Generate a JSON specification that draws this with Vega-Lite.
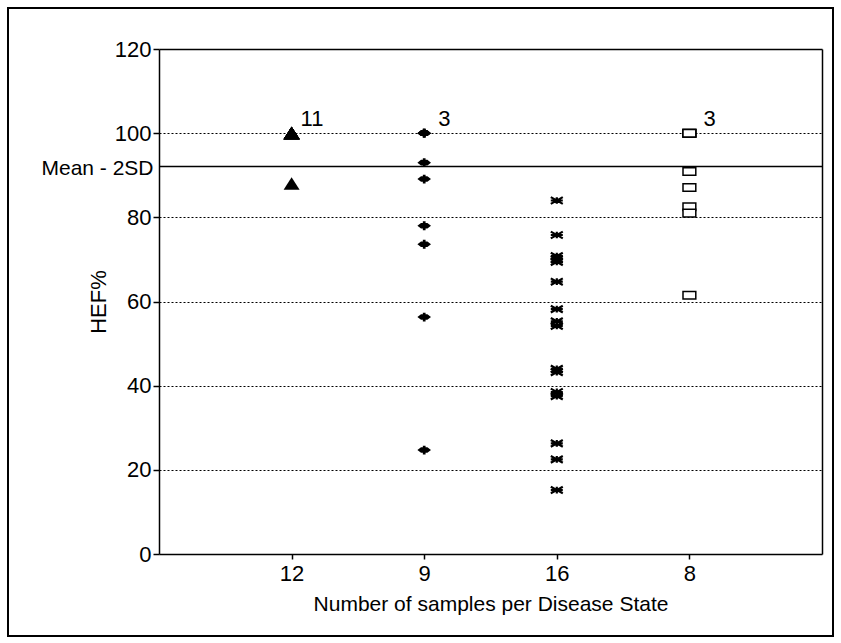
{
  "$schema": "https://vega.github.io/schema/vega-lite/v6.json",
  "width": 825,
  "height": 628,
  "autosize": "none",
  "padding": {"left": 8, "top": 8, "right": 8, "bottom": 7},
  "background": "white",
  "config": {
    "view": {"stroke": "black", "strokeWidth": 2},
    "font": "Liberation Sans",
    "axis": {
      "domainColor": "black",
      "domainWidth": 1.5,
      "tickColor": "black",
      "tickWidth": 1.5,
      "labelColor": "black",
      "labelFont": "Liberation Sans",
      "labelFontSize": 22,
      "titleColor": "black",
      "titleFont": "Liberation Sans",
      "titleFontSize": 21,
      "titleFontWeight": "normal"
    }
  },
  "datasets": {
    "points": [
      {"group": "12", "value": 100}, {"group": "12", "value": 100}, {"group": "12", "value": 100},
      {"group": "12", "value": 100}, {"group": "12", "value": 100}, {"group": "12", "value": 100},
      {"group": "12", "value": 100}, {"group": "12", "value": 100}, {"group": "12", "value": 100},
      {"group": "12", "value": 100}, {"group": "12", "value": 100}, {"group": "12", "value": 88},
      {"group": "9", "value": 100}, {"group": "9", "value": 100}, {"group": "9", "value": 100},
      {"group": "9", "value": 93}, {"group": "9", "value": 89.1}, {"group": "9", "value": 78},
      {"group": "9", "value": 73.6}, {"group": "9", "value": 56.3}, {"group": "9", "value": 24.7},
      {"group": "16", "value": 84}, {"group": "16", "value": 75.8}, {"group": "16", "value": 70.8},
      {"group": "16", "value": 70}, {"group": "16", "value": 69.4}, {"group": "16", "value": 64.7},
      {"group": "16", "value": 58.2}, {"group": "16", "value": 55.3}, {"group": "16", "value": 54.2},
      {"group": "16", "value": 44}, {"group": "16", "value": 43.2}, {"group": "16", "value": 38.5},
      {"group": "16", "value": 37.5}, {"group": "16", "value": 26.3}, {"group": "16", "value": 22.5},
      {"group": "16", "value": 15.2},
      {"group": "8", "value": 100}, {"group": "8", "value": 100}, {"group": "8", "value": 100},
      {"group": "8", "value": 90.9}, {"group": "8", "value": 87.1}, {"group": "8", "value": 82.5},
      {"group": "8", "value": 81}, {"group": "8", "value": 61.5}
    ],
    "labels": [
      {"group": "12", "value": 100, "label": "11"},
      {"group": "9", "value": 100, "label": "3"},
      {"group": "8", "value": 100, "label": "3"}
    ]
  },
  "resolve": {"axis": {"x": "independent", "y": "independent"}},
  "layer": [
    {
      "data": {"name": "points"},
      "mark": {"type": "point", "filled": true, "stroke": "black", "size": 256, "opacity": 1},
      "encoding": {
        "x": {
          "field": "group", "type": "nominal",
          "scale": {"type": "point", "domain": ["12", "9", "16", "8"], "range": [151, 814], "padding": 1},
          "axis": {
            "orient": "bottom", "offset": -82, "labelAngle": 0, "tickSize": 5, "labelPadding": 4,
            "grid": false, "title": "Number of samples per Disease State", "titlePadding": 9, "titleColor": "black"
          }
        },
        "y": {
          "field": "value", "type": "quantitative",
          "scale": {"domain": [0, 120], "range": [546, 41], "nice": false, "zero": true},
          "axis": {
            "orient": "left", "offset": -151, "values": [0, 20, 40, 60, 80, 100, 120],
            "tickSize": 6, "labelPadding": 2, "grid": true, "gridColor": "black", "gridDash": [2, 2], "gridWidth": 1,
            "gridOpacity": {"condition": {"test": "datum.value == 0 || datum.value == 120", "value": 0}, "value": 1},
            "title": "HEF%", "titleFontSize": 22, "titlePadding": 4, "titleColor": "#000000"
          }
        },
        "shape": {
          "field": "group", "type": "nominal", "legend": null,
          "scale": {
            "domain": ["12", "9", "16", "8"],
            "range": [
              "M0,-0.8L1,0.75L-1,0.75Z",
              "M-0.85,0L-0.4,-0.35L-0.17,-0.35L-0.17,-0.55L0.17,-0.55L0.17,-0.35L0.4,-0.35L0.85,0L0.4,0.35L0.17,0.35L0.17,0.55L-0.17,0.55L-0.17,0.35L-0.4,0.35Z",
              "M-0.75,-0.42L0.75,0.42M-0.75,0.42L0.75,-0.42M-0.75,0L0.75,0M0,-0.42L0,0.42",
              "M-0.8,-0.47L0.8,-0.47L0.8,0.47L-0.8,0.47Z"
            ]
          }
        },
        "fill": {
          "field": "group", "type": "nominal", "legend": null,
          "scale": {"domain": ["12", "9", "16", "8"], "range": ["black", "black", "black", "white"]}
        },
        "strokeWidth": {
          "field": "group", "type": "nominal", "legend": null,
          "scale": {"type": "ordinal", "domain": ["12", "9", "16", "8"], "range": [0, 0, 2.2, 1.5]}
        }
      }
    },
    {
      "data": {"name": "labels"},
      "transform": [{"filter": "datum.label == '11'"}],
      "mark": {"type": "text", "align": "left", "baseline": "alphabetic", "dx": 9, "dy": -7, "fontSize": 22, "font": "Liberation Sans", "color": "black"},
      "encoding": {
        "x": {"field": "group", "type": "nominal", "axis": null},
        "y": {
          "field": "value", "type": "quantitative",
          "axis": {
            "orient": "left", "offset": -151, "values": [92.2], "labelExpr": "'Mean - 2SD'",
            "ticks": false, "domain": false, "labelPadding": 6, "labelOffset": 3, "labelFontSize": 21,
            "grid": true, "gridColor": "black", "gridWidth": 1.5, "gridDash": [], "title": null
          }
        },
        "text": {"field": "label"}
      }
    },
    {
      "data": {"name": "labels"},
      "transform": [{"filter": "datum.label == '3'"}],
      "mark": {"type": "text", "align": "left", "baseline": "alphabetic", "dx": 14, "dy": -7, "fontSize": 22, "font": "Liberation Sans", "color": "black"},
      "encoding": {
        "x": {
          "field": "group", "type": "nominal",
          "axis": {"orient": "top", "offset": -41, "labels": false, "ticks": false, "grid": false, "title": null, "domain": true}
        },
        "y": {
          "field": "value", "type": "quantitative",
          "axis": {"orient": "right", "offset": -11, "labels": false, "ticks": false, "grid": false, "title": null, "domain": true}
        },
        "text": {"field": "label"}
      }
    }
  ]
}
